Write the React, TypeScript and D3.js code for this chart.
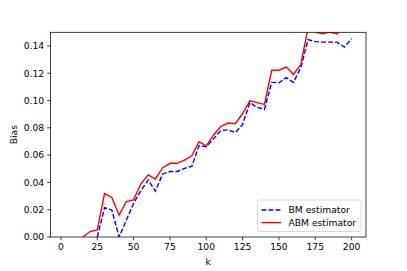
import React from "react";
import * as d3 from "d3";

const kValues = [5, 10, 15, 20, 25, 30, 35, 40, 45, 50, 55, 60, 65, 70, 75, 80, 85, 90, 95, 100,
  105, 110, 115, 120, 125, 130, 135, 140, 145, 150, 155, 160, 165, 170, 175, 180, 185, 190, 195, 200];

const bmValues: (number | null)[] = [null, null, null, null, 0, 0.0215, 0.0198, 0.0, 0.0124, 0.0247, 0.034, 0.0418, 0.0337, 0.0462, 0.048, 0.048, 0.0503, 0.0518, 0.0669, 0.0662,
  0.072, 0.078, 0.0785, 0.0765, 0.0825, 0.0985, 0.095, 0.0935, 0.1133, 0.113, 0.1168, 0.1133, 0.124, 0.1446, 0.1432, 0.1428, 0.1428, 0.1428, 0.1392, 0.1453];

const abmValues: (number | null)[] = [null, null, 0, 0.004, 0.0052, 0.0318, 0.029, 0.016, 0.026, 0.0272, 0.039, 0.0455, 0.0425, 0.0508, 0.054, 0.054, 0.0563, 0.0595, 0.0698, 0.0667,
  0.0748, 0.081, 0.0835, 0.083, 0.0905, 0.0998, 0.0985, 0.0972, 0.1222, 0.1222, 0.1245, 0.1192, 0.1262, 0.153, 0.1502, 0.149, 0.1502, 0.1488, 0.156, 0.158];

const xTicks = [0, 25, 50, 75, 100, 125, 150, 175, 200];
const yTicks = [0, 0.02, 0.04, 0.06, 0.08, 0.1, 0.12, 0.14];

const seriesNames = ["BM estimator", "ABM estimator"];

export default function App() {
  const W = 407, H = 271;
  const L = 50.5, R = 366, T = 32.3, B = 237;
  const fs = 9.2;
  const font = "DejaVu Sans, sans-serif";
  const x = d3.scaleLinear().domain([-7.2, 209.9]).range([L, R]);
  const y = d3.scaleLinear().domain([0, 0.15]).range([B, T]);
  const line = d3.line<[number, number | null]>()
    .defined(d => d[1] !== null)
    .x(d => x(d[0]))
    .y(d => y(d[1] as number));
  const bm = line(kValues.map((k, i) => [k, bmValues[i]]) as [number, number | null][]) || "";
  const abm = line(kValues.map((k, i) => [k, abmValues[i]]) as [number, number | null][]) || "";
  const tick = 3.3;
  const lw = 1.4;
  const dash = "4.9,2.1";
  const legX = 257.5, legY = 200, legW = 103.5, legH = 31.5;
  return (
    <svg width={W} height={H} style={{ position: "absolute", left: 0, top: 0, background: "#fff" }}>
      <defs>
        <clipPath id="plotclip">
          <rect x={L} y={T} width={R - L} height={B - T} />
        </clipPath>
      </defs>
      <rect x={0} y={0} width={W} height={H} fill="#fff" />
      <g clipPath="url(#plotclip)">
        <path d={bm} fill="none" stroke="#0000ff" strokeWidth={lw} strokeDasharray={dash} />
        <path d={abm} fill="none" stroke="#ff0000" strokeWidth={lw} />
      </g>
      <rect x={L} y={T} width={R - L} height={B - T} fill="none" stroke="#000" strokeWidth={0.75} />
      {xTicks.map(t => (
        <g key={"x" + t}>
          <line x1={x(t)} x2={x(t)} y1={B} y2={B + tick} stroke="#000" strokeWidth={0.75} />
          <text x={x(t)} y={B + tick + 3.1 + fs * 0.76} fontSize={fs} fontFamily={font} textAnchor="middle" fill="#000">{t}</text>
        </g>
      ))}
      {yTicks.map(t => (
        <g key={"y" + t}>
          <line x1={L - tick} x2={L} y1={y(t)} y2={y(t)} stroke="#000" strokeWidth={0.75} />
          <text x={L - tick - 3.1} y={y(t)} dy="0.36em" fontSize={fs} fontFamily={font} textAnchor="end" fill="#000">{t.toFixed(2)}</text>
        </g>
      ))}
      <text x={(L + R) / 2} y={264.5} fontSize={fs} fontFamily={font} textAnchor="middle" fill="#000">k</text>
      <text transform={`translate(16.5,${(T + B) / 2}) rotate(-90)`} fontSize={fs} fontFamily={font} textAnchor="middle" fill="#000">Bias</text>
      <rect x={legX} y={legY} width={legW} height={legH} rx={2} fill="#fff" fillOpacity={0.8} stroke="#cccccc" strokeWidth={0.75} />
      {seriesNames.map((name, i) => {
        const yy = legY + 10 + i * 12.6;
        return (
          <g key={name}>
            <line x1={legX + 4} x2={legX + 23.5} y1={yy} y2={yy} stroke={i === 0 ? "#0000ff" : "#ff0000"} strokeWidth={lw} strokeDasharray={i === 0 ? dash : undefined} />
            <text x={legX + 31} y={yy} dy="0.36em" fontSize={fs} fontFamily={font} fill="#000">{name}</text>
          </g>
        );
      })}
    </svg>
  );
}
